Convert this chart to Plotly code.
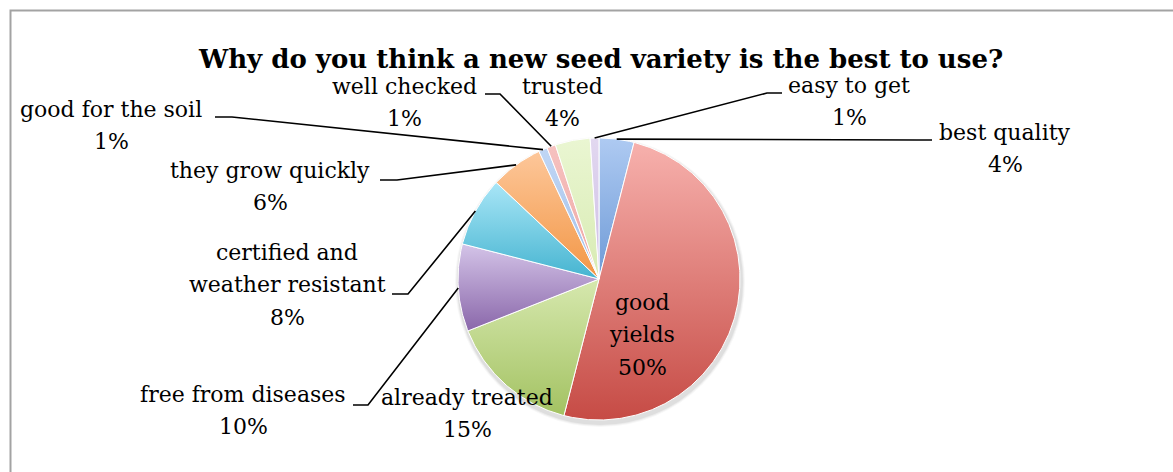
import numpy as np
import plotly.graph_objects as go

# ---- data -------------------------------------------------------------
categories = [
    "best quality", "good yields", "already treated", "free from diseases",
    "certified and weather resistant", "they grow quickly", "good for the soil",
    "well checked", "trusted", "easy to get",
]
shares = [4, 50, 15, 10, 8, 6, 1, 1, 4, 1]
title_text = "Why do you think a new seed variety is the best to use?"

# ---- styling ----------------------------------------------------------
# (top colour, bottom colour) of each slice's vertical gradient
slice_colors = [
    ("#aecaf2", "#6e9ad6"),
    ("#f7b1ad", "#c64b45"),
    ("#d6e8ae", "#a3c262"),
    ("#d4c4e8", "#8a67aa"),
    ("#a9e6f7", "#45b4d0"),
    ("#fdc79a", "#f29645"),
    ("#c0d6f4", "#a3c0ea"),
    ("#f6c2c0", "#efa6a3"),
    ("#eaf6d2", "#d8ebb3"),
    ("#e2d8f0", "#cdbde5"),
]

W, H = 1173, 472
CX, CY, R = 599, 279, 141          # pie centre and radius (px)
FONT = "DejaVu Serif"
LABEL_SIZE = 22
TITLE_SIZE = 26
LINE_GAP = 32.5

# label placement: centre x, first baseline y, leader start (x, y) and elbow x
label_layout = {
    "best quality": dict(x=1005, y=140, lead=(932, 140, 917)),
    "good yields": dict(x=642, y=310, lead=None),
    "already treated": dict(x=467, y=405, lead=None),
    "free from diseases": dict(x=243, y=402, lead=(353, 405, 368)),
    "certified and weather resistant": dict(x=287, y=260, lead=(392, 294, 408)),
    "they grow quickly": dict(x=270, y=178, lead=(380, 180, 397)),
    "good for the soil": dict(x=111, y=117, lead=(215, 117, 232)),
    "well checked": dict(x=404, y=94, lead=(485, 94, 500)),
    "trusted": dict(x=562, y=94, lead=None),
    "easy to get": dict(x=849, y=93, lead=(782, 93, 767)),
}
wrapped = {
    "certified and weather resistant": ["certified and", "weather resistant"],
    "good yields": ["good", "yields"],
}

fig = go.Figure()
shapes = []
annotations = []

# soft shadow under the pie
for k, op in [(4, 0.03), (3, 0.045), (2, 0.06)]:
    shapes.append(dict(type="circle", layer="below", xref="x", yref="y",
                       line=dict(width=0), fillcolor=f"rgba(0,0,0,{op})",
                       x0=CX - R - k + 1, x1=CX + R + k + 1,
                       y0=CY - R - k + 3, y1=CY + R + k + 3))

total = float(sum(shares))
cum = 0.0
mid_angles = []
for name, v, (ctop, cbot) in zip(categories, shares, slice_colors):
    a0 = cum / total * 2 * np.pi
    a1 = (cum + v) / total * 2 * np.pi
    mid_angles.append((a0 + a1) / 2)
    t = np.linspace(a0, a1, max(6, int(v * 6)))
    xs = np.concatenate([[CX], CX + R * np.sin(t), [CX]])
    ys = np.concatenate([[CY], CY - R * np.cos(t), [CY]])
    fig.add_trace(go.Scatter(
        x=xs, y=ys, mode="lines", fill="toself",
        line=dict(color="white", width=1),
        fillgradient=dict(type="vertical", colorscale=[[0, cbot], [1, ctop]]),
        hoverinfo="text", text=f"{name}: {v}%", showlegend=False,
    ))
    cum += v

# labels and leader lines
for name, v, ang in zip(categories, shares, mid_angles):
    pos = label_layout[name]
    lines = wrapped.get(name, [name]) + [f"{v}%"]
    for i, ln in enumerate(lines):
        base = pos["y"] + i * LINE_GAP
        annotations.append(dict(
            x=pos["x"], y=base - 0.345 * LABEL_SIZE, xref="x", yref="y",
            text=ln, showarrow=False, xanchor="center", yanchor="middle",
            borderpad=0,
            font=dict(family=FONT, size=LABEL_SIZE, color="#000000"),
        ))
    if pos["lead"] is not None:
        lx, ly, ex = pos["lead"]
        px = CX + R * np.sin(ang)
        py = CY - R * np.cos(ang)
        shapes.append(dict(
            type="path", xref="x", yref="y", layer="above",
            path=f"M {lx},{ly} L {ex},{ly} L {px:.1f},{py:.1f}",
            line=dict(color="#000000", width=1.6),
        ))

# title
annotations.append(dict(
    x=600, y=67.5 - 0.345 * TITLE_SIZE, xref="x", yref="y", text=f"<b>{title_text}</b>",
    showarrow=False, xanchor="center", yanchor="middle", borderpad=0,
    font=dict(family=FONT, size=TITLE_SIZE, color="#000000"),
))

# chart frame (top and left edges)
shapes.append(dict(type="path", xref="x", yref="y", layer="above",
                   path=f"M 10.5,{H} L 10.5,10.5 L {W},10.5",
                   line=dict(color="#a3a3a3", width=2)))

fig.update_layout(
    width=W, height=H, autosize=False,
    margin=dict(l=0, r=0, t=0, b=0),
    paper_bgcolor="white", plot_bgcolor="white",
    xaxis=dict(range=[0, W], visible=False, fixedrange=True),
    yaxis=dict(range=[H, 0], visible=False, fixedrange=True),
    annotations=annotations, shapes=shapes,
    showlegend=False,
)

fig.write_html("out.html")
